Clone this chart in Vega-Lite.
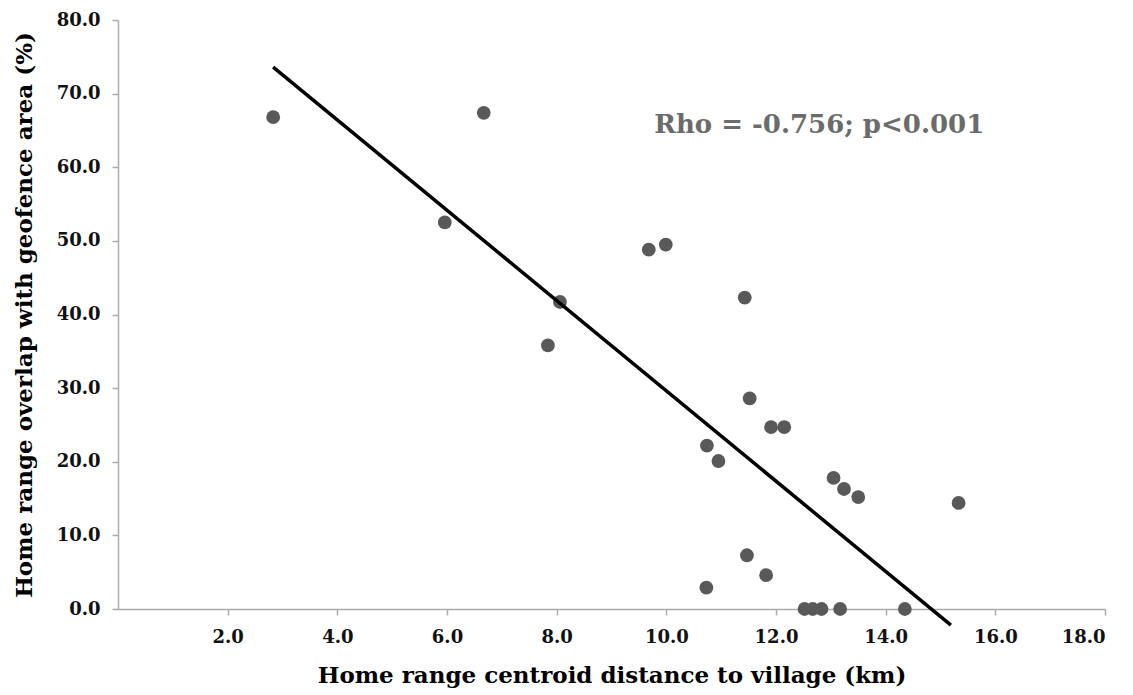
{
  "$schema": "https://vega.github.io/schema/vega-lite/v6.json",
  "autosize": {"type": "none"},
  "width": 987,
  "height": 589,
  "padding": {"left": 118, "top": 20, "right": 28, "bottom": 86},
  "background": "white",
  "config": {"view": {"stroke": null}},
  "datasets": {
    "points": [
      {"distance": 2.83, "overlap": 66.8},
      {"distance": 6.67, "overlap": 67.4},
      {"distance": 5.96, "overlap": 52.5},
      {"distance": 8.06, "overlap": 41.7},
      {"distance": 7.84, "overlap": 35.8},
      {"distance": 9.68, "overlap": 48.8},
      {"distance": 9.99, "overlap": 49.5},
      {"distance": 11.43, "overlap": 42.3},
      {"distance": 11.52, "overlap": 28.6},
      {"distance": 11.91, "overlap": 24.7},
      {"distance": 12.15, "overlap": 24.7},
      {"distance": 10.74, "overlap": 22.2},
      {"distance": 10.95, "overlap": 20.1},
      {"distance": 13.05, "overlap": 17.8},
      {"distance": 13.24, "overlap": 16.3},
      {"distance": 13.5, "overlap": 15.2},
      {"distance": 15.33, "overlap": 14.4},
      {"distance": 11.47, "overlap": 7.3},
      {"distance": 11.82, "overlap": 4.6},
      {"distance": 10.73, "overlap": 2.9},
      {"distance": 12.52, "overlap": 0.0},
      {"distance": 12.67, "overlap": 0.0},
      {"distance": 12.83, "overlap": 0.0},
      {"distance": 13.17, "overlap": 0.0},
      {"distance": 14.35, "overlap": 0.0}
    ],
    "fit": [
      {"distance": 2.83, "overlap": 73.6},
      {"distance": 15.19, "overlap": -2.2}
    ],
    "note": [
      {"distance": 9.78, "overlap": 65.8, "label": "Rho = -0.756; p<0.001"}
    ]
  },
  "layer": [
    {
      "data": {"name": "points"},
      "mark": {"type": "point", "shape": "circle", "filled": true, "size": 190, "color": "#595959", "opacity": 1},
      "encoding": {
        "x": {
          "field": "distance", "type": "quantitative",
          "scale": {"domain": [0, 18], "nice": false, "zero": false},
          "axis": {
            "title": "Home range centroid distance to village (km)",
            "values": [2, 4, 6, 8, 10, 12, 14, 16, 18],
            "format": ".1f",
            "grid": false,
            "domainColor": "#aaaaaa", "domainWidth": 1.5,
            "tickColor": "#aaaaaa", "tickWidth": 1.5, "tickSize": 6,
            "labelFont": "DejaVu Serif", "labelFontWeight": "bold", "labelFontSize": 18, "labelColor": "#111111",
            "labelPadding": 13,
            "titleFont": "DejaVu Serif", "titleFontWeight": "bold", "titleFontSize": 23, "titleColor": "#000000",
            "titlePadding": 18
          }
        },
        "y": {
          "field": "overlap", "type": "quantitative",
          "scale": {"domain": [0, 80], "nice": false},
          "axis": {
            "title": "Home range overlap with geofence area (%)",
            "values": [0, 10, 20, 30, 40, 50, 60, 70, 80],
            "format": ".1f",
            "grid": false,
            "domainColor": "#aaaaaa", "domainWidth": 1.5,
            "tickColor": "#aaaaaa", "tickWidth": 1.5, "tickSize": 6,
            "labelFont": "DejaVu Serif", "labelFontWeight": "bold", "labelFontSize": 18, "labelColor": "#111111",
            "labelPadding": 12,
            "titleFont": "DejaVu Serif", "titleFontWeight": "bold", "titleFontSize": 23, "titleColor": "#000000",
            "titlePadding": 20
          }
        }
      }
    },
    {
      "data": {"name": "fit"},
      "mark": {"type": "line", "color": "#000000", "strokeWidth": 3.5, "clip": false},
      "encoding": {
        "x": {"field": "distance", "type": "quantitative"},
        "y": {"field": "overlap", "type": "quantitative"}
      }
    },
    {
      "data": {"name": "note"},
      "mark": {"type": "text", "align": "left", "baseline": "middle", "font": "DejaVu Serif", "fontWeight": "bold", "fontSize": 26, "color": "#6b6b6b"},
      "encoding": {
        "x": {"field": "distance", "type": "quantitative"},
        "y": {"field": "overlap", "type": "quantitative"},
        "text": {"field": "label"}
      }
    }
  ]
}
